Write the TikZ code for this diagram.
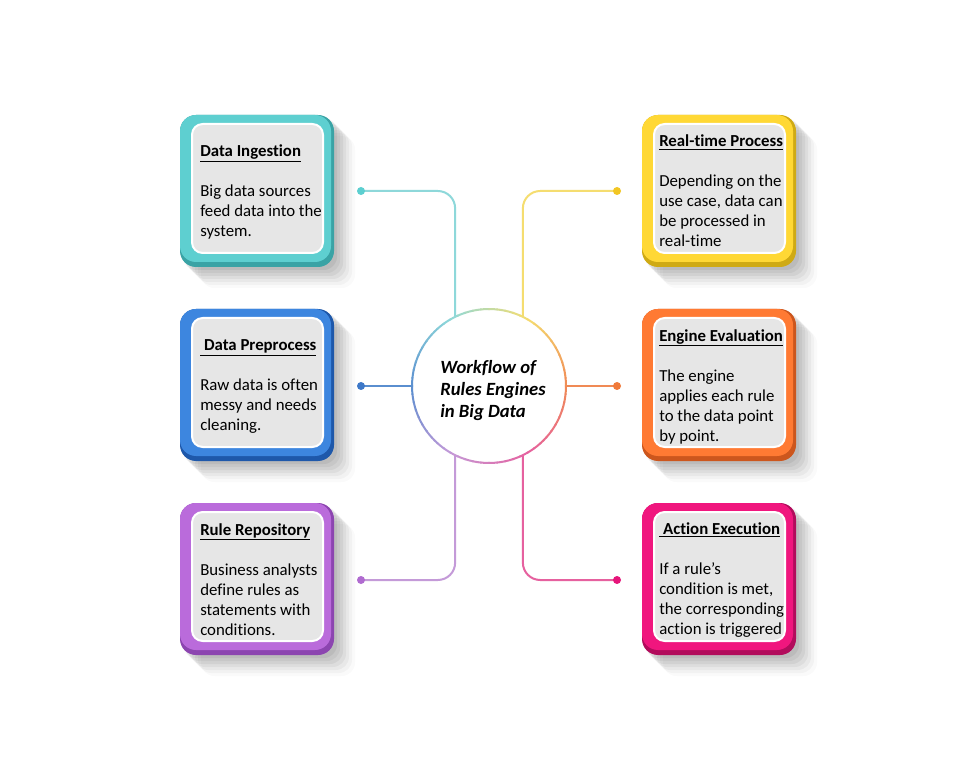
\documentclass[tikz,border=0pt]{standalone}
\usepackage{fontspec}
\setmainfont{Carlito}[Ligatures={NoCommon}]
\definecolor{tealL}{HTML}{5ECFD0}\definecolor{tealD}{HTML}{3AA3A5}
\definecolor{blueL}{HTML}{3D86DF}\definecolor{blueD}{HTML}{1E58AA}
\definecolor{purpL}{HTML}{BA6BDB}\definecolor{purpD}{HTML}{8C45B0}
\definecolor{yellL}{HTML}{FFD835}\definecolor{yellD}{HTML}{CFAA14}
\definecolor{oranL}{HTML}{FF7A33}\definecolor{oranD}{HTML}{CC561D}
\definecolor{pinkL}{HTML}{F0167E}\definecolor{pinkD}{HTML}{B20C5C}
\definecolor{tealC}{HTML}{8ED8DA}\definecolor{yellC}{HTML}{F5DD70}
\definecolor{blueC}{HTML}{5A8ECF}\definecolor{oranC}{HTML}{F08A55}
\definecolor{purpC}{HTML}{C49AD8}\definecolor{pinkC}{HTML}{E6619F}
\definecolor{tealP}{HTML}{5CCFD0}\definecolor{yellP}{HTML}{F2C623}
\definecolor{blueP}{HTML}{3D78C8}\definecolor{oranP}{HTML}{F07A3A}
\definecolor{purpP}{HTML}{B06BD0}\definecolor{pinkP}{HTML}{E6157A}
\definecolor{cardgray}{HTML}{E6E6E6}
\newcommand\stepcard[5]{% name, cx, cy, light, dark
  \foreach \o/\op in {3/0.05,6/0.05,9/0.05,12/0.045,15/0.04,18/0.03,21/0.02}{
    \fill[black,opacity=\op,rounded corners=10pt] (#2-77+\o,#3-76+\o) rectangle (#2+77+\o,#3+76+\o);}
  \node[cardout,fill=#5] (#1) at (#2,#3) {};
  \fill[#4,rounded corners=12pt] (#2-77,#3-76) rectangle (#2+74,#3+71);
  \node[cardin] (#1i) at (#2+0.5,#3-2.5) {};
}
\begin{document}
\begin{tikzpicture}[x=0.75pt,y=-0.75pt,
  cardout/.style={rectangle,rounded corners=12pt,minimum width=115.5pt,minimum height=114pt,inner sep=0pt},
  cardin/.style={rectangle,rounded corners=8pt,minimum width=98.25pt,minimum height=96.75pt,inner sep=0pt,fill=cardgray,draw=white,line width=1.5pt},
  cardtext/.style={anchor=base west,align=left,inner sep=0pt,font=\fontsize{12.6}{15}\selectfont,text=black},
  conn/.style={line width=1.5pt,rounded corners=13pt},
  hubstyle/.style={circle,minimum size=115.5pt,inner sep=0pt,fill=white}]
\useasboundingbox (0,0) rectangle (978,773);
\fill[white] (0,0) rectangle (978,773);

% cards
\stepcard{ing}{257}{191}{tealL}{tealD}
\stepcard{pre}{257}{385}{blueL}{blueD}
\stepcard{rep}{257}{579}{purpL}{purpD}
\stepcard{rtp}{719}{191}{yellL}{yellD}
\stepcard{eng}{719}{385}{oranL}{oranD}
\stepcard{act}{719}{579}{pinkL}{pinkD}

% anchor = baseline of the last line
\node[cardtext] (ingt) at (200,237) {\underline{\textbf{Data Ingestion}}\\[15pt]Big data sources\\feed data into the\\system.};
\node[cardtext] (pret) at (200,431) {\underline{\textbf{\ Data Preprocess}}\\[15pt]Raw data is often\\messy and needs\\cleaning.};
\node[cardtext] (rept) at (200,635) {\underline{\textbf{Rule Repository}}\\[15pt]Business analysts\\define rules as\\statements with\\conditions.};
\node[cardtext] (rtpt) at (659,247) {\underline{\textbf{Real-time Process}}\\[15pt]Depending on the\\use case, data can\\be processed in\\real-time};
\node[cardtext] (engt) at (659,441) {\underline{\textbf{Engine Evaluation}}\\[15pt]The engine\\applies each rule\\to the data point\\by point.};
\node[cardtext] (actt) at (659,634) {\underline{\textbf{\ Action Execution}}\\[15pt]If a rule{\char"27}s\\condition is met,\\the corresponding\\action is triggered};

% hub
\node[hubstyle] (hub) at (489,386) {};

% connectors
\coordinate (pI) at (361,191);
\coordinate (pP) at (361,386);
\coordinate (pU) at (361,580);
\coordinate (pR) at (617,191);
\coordinate (pE) at (617,386);
\coordinate (pA) at (617,580);
\draw[conn,draw=tealC] (pI) -| (hub.116);
\draw[conn,draw=yellC] (pR) -| (hub.64);
\draw[conn,draw=blueC] (pP) -- (hub.west);
\draw[conn,draw=oranC] (pE) -- (hub.east);
\draw[conn,draw=purpC] (pU) -| (hub.-116);
\draw[conn,draw=pinkC] (pA) -| (hub.-64);
\fill[tealP] (pI) circle[radius=4];
\fill[yellP] (pR) circle[radius=4];
\fill[blueP] (pP) circle[radius=4];
\fill[oranP] (pE) circle[radius=4];
\fill[purpP] (pU) circle[radius=4];
\fill[pinkP] (pA) circle[radius=4];

% gradient ring (angles: 90 = down on screen)
\foreach \a/\ca/\cb in {0/oranC/pinkC,60/pinkC/purpC,120/purpC/blueC,180/blueC/tealC,240/tealC/yellC,300/yellC/oranC}{
  \foreach \i in {0,...,9}{
    \pgfmathsetmacro\pc{\i*10+5}
    \draw[line width=1.5pt,draw=\cb!\pc!\ca] (489,386) ++(\a+\i*6-0.4:77) arc[start angle=\a+\i*6-0.4,end angle=\a+\i*6+6.4,radius=77];
  }
}
\node[align=left,inner sep=0pt,font=\fontsize{14}{16.5}\selectfont\bfseries\itshape] (title) at (493,391) {Workflow of\\Rules Engines\\in Big Data};
\end{tikzpicture}
\end{document}
